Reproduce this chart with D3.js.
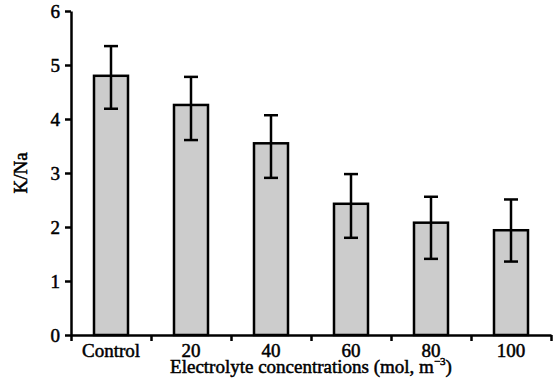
<!DOCTYPE html>
<html>
<head>
<meta charset="utf-8">
<script src="https://cdn.jsdelivr.net/npm/d3@7"></script>
<style>
  body { margin: 0; background: #fff; }
</style>
</head>
<body>
<div id="chart"></div>
<script>
const categories = ['Control', '20', '40', '60', '80', '100'];
const ratio = [4.80, 4.26, 3.55, 2.43, 2.08, 1.94];
const errUpper = [5.35, 4.78, 4.07, 2.98, 2.56, 2.51];
const errLower = [4.19, 3.61, 2.91, 1.80, 1.41, 1.36];
const yTicks = [0, 1, 2, 3, 4, 5, 6];

const width = 559;
const height = 387;
const padding = { top: 11, right: 8, bottom: 52, left: 71 };
const fontFamily = '"Liberation Serif"';

const svg = d3.select('#chart')
	.append('svg')
	.attr('width', width)
	.attr('height', height)
	.attr('font-family', fontFamily);

const xScale = d3.scaleBand()
	.domain(categories)
	.range([padding.left, width - padding.right])
	.paddingInner(0.575)
	.paddingOuter(0.2875);

// boundaries between groups carry the tick marks
const xEdges = d3.scaleLinear()
	.domain([0, categories.length])
	.range([padding.left, width - padding.right]);

const yScale = d3.scaleLinear()
	.domain([0, 6])
	.range([height - padding.bottom, padding.top]);

// bars
svg.append('g')
	.selectAll('rect')
	.data(ratio)
	.join('rect')
	.attr('x', (d, i) => xScale(categories[i]))
	.attr('y', d => yScale(d))
	.attr('width', xScale.bandwidth())
	.attr('height', d => yScale(0) - yScale(d))
	.attr('fill', '#cccccc')
	.attr('stroke', '#000')
	.attr('stroke-width', 2.5);

// error bars
const capW = 14;
const err = svg.append('g')
	.attr('stroke', '#000')
	.attr('stroke-width', 2.5);

categories.forEach((c, i) => {
	const cx = xScale(c) + xScale.bandwidth() / 2;
	err.append('line')
		.attr('x1', cx).attr('x2', cx)
		.attr('y1', yScale(errUpper[i])).attr('y2', yScale(errLower[i]));
	err.append('line')
		.attr('x1', cx - capW / 2).attr('x2', cx + capW / 2)
		.attr('y1', yScale(errUpper[i])).attr('y2', yScale(errUpper[i]));
	err.append('line')
		.attr('x1', cx - capW / 2).attr('x2', cx + capW / 2)
		.attr('y1', yScale(errLower[i])).attr('y2', yScale(errLower[i]));
});

// scanned look: thicken the glyphs a little
const inkText = sel => sel
	.attr('fill', '#000')
	.attr('stroke', '#000')
	.attr('stroke-width', 0.5)
	.attr('font-family', fontFamily)
	.attr('font-size', 19);

// x axis: ticks at group edges
svg.append('g')
	.attr('transform', `translate(0,${yScale(0)})`)
	.call(d3.axisBottom(xEdges).tickValues(d3.range(categories.length + 1)).tickFormat('').tickSize(6).tickSizeOuter(0))
	.call(g => g.selectAll('path, line').attr('stroke', '#000').attr('stroke-width', 2.5));

// x axis labels
svg.append('g')
	.attr('transform', `translate(0,${yScale(0)})`)
	.call(d3.axisBottom(xScale).tickSize(0).tickPadding(8.5))
	.call(g => g.select('.domain').remove())
	.call(g => g.attr('font-family', fontFamily).attr('font-size', 19))
	.call(g => g.selectAll('text').call(inkText));

// y axis
svg.append('g')
	.attr('transform', `translate(${padding.left},0)`)
	.call(d3.axisLeft(yScale).tickValues(yTicks).tickFormat(d3.format('d')).tickSize(6).tickSizeOuter(0).tickPadding(5))
	.call(g => g.attr('font-family', fontFamily).attr('font-size', 19))
	.call(g => g.selectAll('path, line').attr('stroke', '#000').attr('stroke-width', 2.5))
	.call(g => g.selectAll('text').call(inkText));

// axis titles
const xTitle = svg.append('text')
	.attr('x', (padding.left + width - padding.right) / 2)
	.attr('y', 373)
	.attr('text-anchor', 'middle')
	.call(inkText);
xTitle.append('tspan').text('Electrolyte concentrations (mol, m');
xTitle.append('tspan').attr('dy', -8).attr('font-size', 11).text('\u22123');
xTitle.append('tspan').attr('dy', 8).text(')');

svg.append('text')
	.attr('transform', `translate(27,${(yScale(0) + yScale(6)) / 2}) rotate(-90)`)
	.attr('text-anchor', 'middle')
	.call(inkText)
	.text('K/Na');
</script>
</body>
</html>
